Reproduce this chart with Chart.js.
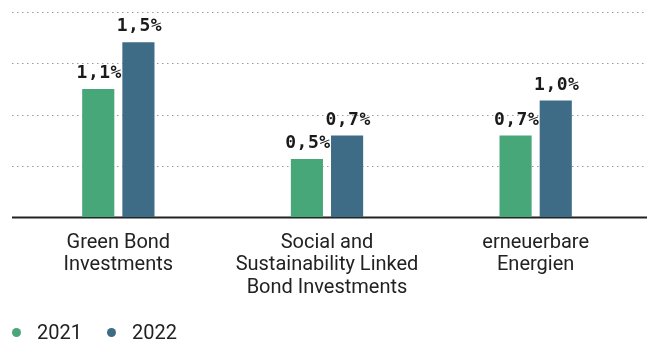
<!DOCTYPE html>
<html>
<head>
<meta charset="utf-8">
<script src="https://cdn.jsdelivr.net/npm/chart.js@4/dist/chart.umd.min.js"></script>
<style>
  html, body { margin: 0; padding: 0; background: #fff; }
  #wrap { position: relative; width: 649px; height: 340px; }
  #legend {
    position: absolute; left: 12px; top: 320px;
    font: 20px Roboto, sans-serif; color: #222;
    display: flex; align-items: center;
  }
  #legend span.dot {
    display: inline-block; width: 9px; height: 9px; border-radius: 50%;
    margin-right: 16px;
  }
  #legend span.item { display: flex; align-items: center; margin-right: 25px; }
</style>
</head>
<body>
<div id="wrap">
  <canvas id="chart" width="649" height="340"></canvas>
  <div id="legend"></div>
</div>
<script>
const categories = [
  ["Green Bond", "Investments"],
  ["Social and", "Sustainability Linked", "Bond Investments"],
  ["erneuerbare", "Energien"]
];
const seriesNames = ["2021", "2022"];
const values2021 = [1.1, 0.5, 0.7];
const values2022 = [1.5, 0.7, 1.0];
const colors = ["#47a778", "#3e6c86"];

const yMax = 1.76;
const yStep = 0.44;

const fmt = v => v.toFixed(1).replace(".", ",") + "%";

// dotted guide lines + solid baseline, running a bit past the plot area
const guides = {
  id: "guides",
  beforeDatasetsDraw(chart) {
    const { ctx, scales: { y } } = chart;
    const x0 = 12, x1 = chart.width - 2;
    ctx.save();
    y.ticks.forEach(t => {
      const py = Math.round(y.getPixelForValue(t.value));
      ctx.beginPath();
      if (t.value === 0) {
        ctx.setLineDash([]);
        ctx.strokeStyle = "#222";
        ctx.lineWidth = 2;
      } else {
        ctx.setLineDash([1.5, 3.5]);
        ctx.strokeStyle = "#9a9a9a";
        ctx.lineWidth = 1;
      }
      ctx.moveTo(x0, py + 0.5);
      ctx.lineTo(x1, py + 0.5);
      ctx.stroke();
    });
    ctx.restore();
  }
};

// value labels on top of each bar
const valueLabels = {
  id: "valueLabels",
  afterDatasetsDraw(chart) {
    const { ctx } = chart;
    ctx.save();
    ctx.font = "bold 18px 'DejaVu Sans Mono', monospace";
    ctx.letterSpacing = "0.5px";
    ctx.fillStyle = "#1a1a1a";
    ctx.textAlign = "center";
    ctx.textBaseline = "alphabetic";
    chart.data.datasets.forEach((ds, i) => {
      chart.getDatasetMeta(i).data.forEach((bar, j) => {
        ctx.fillText(fmt(ds.data[j]), bar.x + 1, bar.y - 11);
      });
    });
    ctx.restore();
  }
};

new Chart(document.getElementById("chart"), {
  type: "bar",
  data: {
    labels: categories,
    datasets: [
      { label: seriesNames[0], data: values2021, backgroundColor: colors[0] },
      { label: seriesNames[1], data: values2022, backgroundColor: colors[1] }
    ]
  },
  options: {
    responsive: false,
    animation: false,
    devicePixelRatio: 1,
    categoryPercentage: 0.385,
    barPercentage: 0.8,
    layout: { padding: { left: 14, right: 9, top: 12, bottom: 35 } },
    plugins: {
      legend: { display: false },
      tooltip: { enabled: false }
    },
    scales: {
      x: {
        grid: { display: false },
        border: { display: false },
        ticks: {
          color: "#222",
          padding: 6,
          font: { family: "Roboto, sans-serif", size: 20, lineHeight: 1.13 }
        }
      },
      y: {
        display: false,
        min: 0,
        max: yMax,
        ticks: { stepSize: yStep }
      }
    }
  },
  plugins: [guides, valueLabels]
});

// legend
const legend = document.getElementById("legend");
seriesNames.forEach((name, i) => {
  const item = document.createElement("span");
  item.className = "item";
  const dot = document.createElement("span");
  dot.className = "dot";
  dot.style.background = colors[i];
  item.appendChild(dot);
  item.appendChild(document.createTextNode(name));
  legend.appendChild(item);
});
</script>
</body>
</html>
